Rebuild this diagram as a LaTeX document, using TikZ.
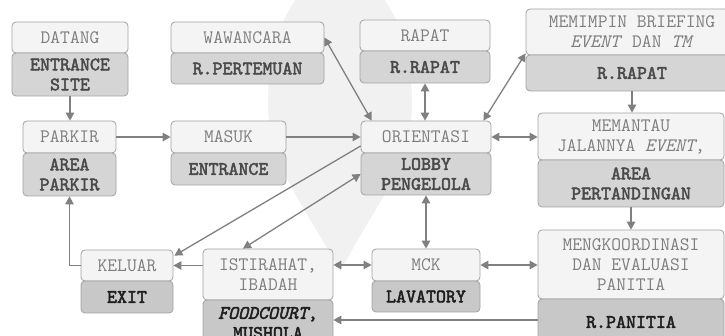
\documentclass[tikz,border=0pt]{standalone}
\usepackage{fontspec}
\usetikzlibrary{arrows.meta,calc}

% heavy typewriter face for the room labels
\newfontfamily\roomfont{lmmono10-regular.otf}[FakeBold=2.4,
  ItalicFont=lmmono10-italic.otf, ItalicFeatures={FakeBold=2.4}]

\definecolor{topfill}{HTML}{F4F4F4}
\definecolor{botfill}{HTML}{D5D5D5}
\definecolor{botfilldk}{HTML}{C8C8C8}
\definecolor{boxline}{HTML}{A2A2A2}
\definecolor{toptext}{HTML}{7E7E7E}
\definecolor{bottext}{HTML}{4A4A4A}
\definecolor{bottextdk}{HTML}{1E1E1E}
\definecolor{flowgray}{HTML}{808080}
\definecolor{emblemgray}{HTML}{F1F1F1}

\tikzset{
  activity/.style={draw=boxline, fill=topfill, rounded corners=4pt, line width=0.8pt,
    text=toptext, inner sep=0pt, align=center,
    font=\ttfamily\fontsize{19}{20}\selectfont},
  place/.style={activity, fill=botfill, text=bottext,
    font=\roomfont\fontsize{19}{20}\selectfont},
  placedk/.style={place, fill=botfilldk, text=bottextdk},
  flow/.style={draw=flowgray, line width=1.3pt, -{Triangle[length=8pt,width=8.5pt]}},
  flow2/.style={flow, {Triangle[length=8pt,width=8.5pt]}-{Triangle[length=8pt,width=8.5pt]}}
}

\begin{document}
\begin{tikzpicture}[x=1pt,y=-1pt]
\useasboundingbox (0,0) rectangle (725,336);
\clip (0,0) rectangle (725,336);

% faint pin-shaped emblem in the background
\fill[emblemgray] (340,272) .. controls (305,205) and (268,165) .. (268,105)
  .. controls (268,25) and (300,-25) .. (340,-25)
  .. controls (380,-25) and (412,25) .. (412,105)
  .. controls (412,165) and (375,205) .. (340,272) -- cycle;

% row 1
\node[activity, minimum width=116pt, minimum height=31pt] (datangT) at (70,37.5) {DATANG};
\node[place, minimum width=116pt, minimum height=43pt] (datangB) at (70,74.5) {ENTRANCE\\SITE};

\node[activity, minimum width=153pt, minimum height=31pt] (wawT) at (247.5,37.5) {WAWANCARA};
\node[place, minimum width=153pt, minimum height=31pt] (wawB) at (247.5,68.5) {R.PERTEMUAN};

\node[activity, minimum width=130pt, minimum height=31pt] (rapatT) at (425,35.5) {RAPAT};
\node[place, minimum width=130pt, minimum height=32pt] (rapatB) at (425,67) {R.RAPAT};

\node[activity, minimum width=212pt, minimum height=46pt] (briefT) at (632,32) {MEMIMPIN BRIEFING\\\textit{EVENT} DAN \textit{TM}};
\node[place, minimum width=212pt, minimum height=36pt] (briefB) at (632,73) {R.RAPAT};

% row 2
\node[activity, minimum width=93pt, minimum height=32pt] (parkirT) at (69.5,137) {PARKIR};
\node[place, minimum width=93pt, minimum height=43pt] (parkirB) at (69.5,174.5) {AREA\\PARKIR};

\node[activity, minimum width=115pt, minimum height=32pt] (masukT) at (228.5,137) {MASUK};
\node[place, minimum width=115pt, minimum height=32pt] (masukB) at (228.5,169) {ENTRANCE};

\node[activity, minimum width=130pt, minimum height=32pt] (orientT) at (426,137) {ORIENTASI};
\node[place, minimum width=130pt, minimum height=42pt] (orientB) at (426,174) {LOBBY\\PENGELOLA};

\node[activity, minimum width=186pt, minimum height=47pt] (pantauT) at (631,136.5) {MEMANTAU\\JALANNYA \textit{EVENT},};
\node[place, minimum width=186pt, minimum height=47pt] (pantauB) at (631,183.5) {AREA\\PERTANDINGAN};

% row 3
\node[activity, minimum width=92pt, minimum height=31pt] (keluarT) at (127,265.5) {KELUAR};
\node[placedk, minimum width=92pt, minimum height=32pt] (keluarB) at (127,297) {EXIT};

\node[activity, minimum width=130pt, minimum height=51pt] (istT) at (268,274.5) {ISTIRAHAT,\\IBADAH};
\node[placedk, minimum width=130pt, minimum height=46pt] (istB) at (268,323) {\textit{FOODCOURT},\\MUSHOLA};

\node[activity, minimum width=108pt, minimum height=32pt] (mckT) at (426,265) {MCK};
\node[placedk, minimum width=108pt, minimum height=31pt] (mckB) at (426,296.5) {LAVATORY};

\node[activity, minimum width=186pt, minimum height=69pt] (koordT) at (631,264.5) {MENGKOORDINASI\\DAN EVALUASI\\PANITIA};
\node[placedk, minimum width=186pt, minimum height=46pt] (koordB) at (631,322) {R.PANITIA};

% connectors
\draw[flow] (datangB.south) -- (datangB.south |- parkirT.north);
\draw[flow] (parkirT.east) -- (masukT.west);
\draw[flow] (masukT.east) -- (orientT.west);
\draw[flow2] (wawT.east) -- ($(orientT.north west)+(11,0)$);
\draw[flow2] (rapatB.south) -- (rapatB.south |- orientT.north);
\draw[flow2] ($(orientT.north east)+(-8,0)$) -- ($(briefT.south west)+(0,-2)$);
\draw[flow] (briefB.south) -- (briefB.south |- pantauT.north);
\draw[flow2] (orientT.east) -- (orientT.east -| pantauT.west);
\draw[flow] (pantauB.south) -- (koordT.north);
\draw[flow2] (orientB.south) -- (orientB.south |- mckT.north);
\draw[flow] ($(orientT.west)+(0,9)$) -- ($(keluarT.north east)+(1,6)$);
\draw[flow2] (orientB.west) -- ($(istT.north)+(-25,0)$);
\draw[flow] (istT.west |- keluarT.east) -- (keluarT.east);
\draw[flow2] (istT.east |- mckT.west) -- (mckT.west);
\draw[flow2] (mckT.east) -- (mckT.east -| koordT.west);
\draw[flow] ($(koordB.west)+(0,-2)$) -- ($(istB.east)+(0,-3)$);
\draw[flow] (keluarT.west) -| (parkirB.south);
\end{tikzpicture}
\end{document}
